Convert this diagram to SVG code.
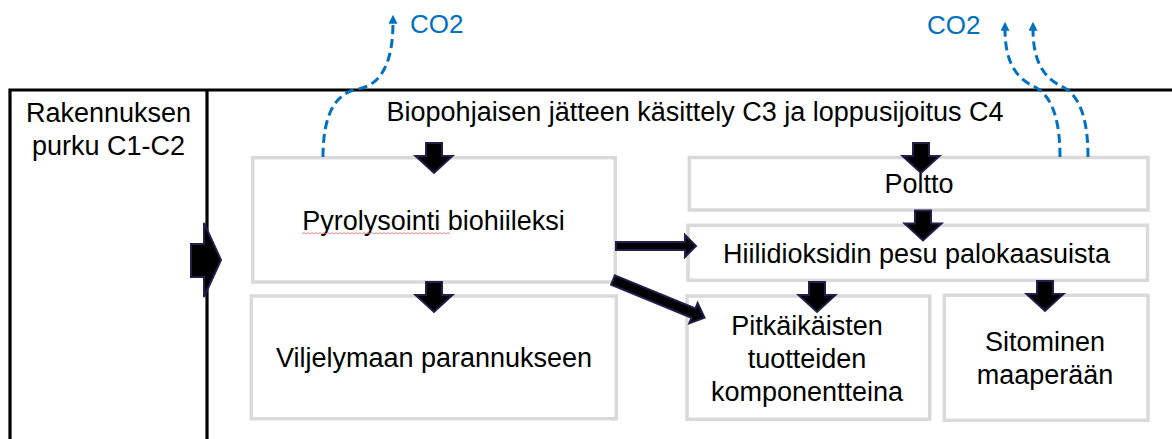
<svg xmlns="http://www.w3.org/2000/svg" width="1172" height="439" viewBox="0 0 1172 439">
<defs>
<style>
.frame{fill:none;stroke:#000;stroke-width:3.2}
.box{fill:#fff;stroke:#d9d9d9;stroke-width:3.5}
.t{font-family:"Liberation Sans",Arial,sans-serif;font-size:27px;fill:#000;text-anchor:middle}
.co2{font-family:"Liberation Sans",Arial,sans-serif;font-size:26px;fill:#0070C0}
.blk{fill:#000;stroke:#221f4d;stroke-width:2;stroke-linejoin:miter}
.dash{fill:none;stroke:#0070C0;stroke-width:3;stroke-dasharray:9 5}
</style>
<path id="down" d="M-8,0 H8 V13 H18.5 L0,30 L-18.5,13 H-8 Z"/>
<marker id="ah" viewBox="0 0 10 10" refX="2" refY="5" markerWidth="10" markerHeight="9" markerUnits="userSpaceOnUse" orient="auto">
<path d="M0,0 L10,5 L0,10 Z" fill="#0070C0"/>
</marker>
</defs>
<rect width="1172" height="439" fill="#fff"/>
<g id="frame">
<path class="frame" d="M10,439 V90 H1172 M207,90 V439"/>
</g>
<g id="purku">
<text class="t" x="108.5" y="122">Rakennuksen</text>
<text class="t" x="108.5" y="155">purku C1-C2</text>
</g>
<g id="kasittely">
<text class="t" x="695" y="121">Biopohjaisen jätteen käsittely C3 ja loppusijoitus C4</text>
</g>
<g id="pyrolysointi">
<rect class="box" x="252.7" y="157.7" width="362.6" height="124.3"/>
<text class="t" x="433.5" y="230">Pyrolysointi biohiileksi</text>
<path d="M302,234 l2,-1.5 l2,1.5 l2,-1.5 l2,1.5 l2,-1.5 l2,1.5 l2,-1.5 l2,1.5 l2,-1.5 l2,1.5 l2,-1.5 l2,1.5 l2,-1.5 l2,1.5 l2,-1.5 l2,1.5 l2,-1.5 l2,1.5 l2,-1.5 l2,1.5 l2,-1.5 l2,1.5 l2,-1.5 l2,1.5 l2,-1.5 l2,1.5 l2,-1.5 l2,1.5 l2,-1.5 l2,1.5 l2,-1.5 l2,1.5 l2,-1.5 l2,1.5 l2,-1.5 l2,1.5 l2,-1.5 l2,1.5 l2,-1.5 l2,1.5 l2,-1.5 l2,1.5 l2,-1.5 l2,1.5 l2,-1.5 l2,1.5 l2,-1.5 l2,1.5 l2,-1.5 l2,1.5 l2,-1.5 l2,1.5 l2,-1.5 l2,1.5 l2,-1.5 l2,1.5 l2,-1.5 l2,1.5 l2,-1.5 l2,1.5 l2,-1.5 l2,1.5 l2,-1.5 l2,1.5 l2,-1.5 l2,1.5 l2,-1.5 l2,1.5 l2,-1.5 l2,1.5 l2,-1.5 l2,1.5 l2,-1.5 l2,1.5" fill="none" stroke="#f07a7a" stroke-width="0.9"/>
</g>
<g id="viljelymaa">
<rect class="box" x="251.3" y="296" width="365" height="122.7"/>
<text class="t" x="434" y="367">Viljelymaan parannukseen</text>
</g>
<g id="poltto">
<rect class="box" x="689.3" y="157.5" width="458.7" height="52.5"/>
<text class="t" x="919" y="193">Poltto</text>
</g>
<g id="pesu">
<rect class="box" x="688" y="225.3" width="459.5" height="55"/>
<text class="t" x="916.5" y="263">Hiilidioksidin pesu palokaasuista</text>
</g>
<g id="tuotteet">
<rect class="box" x="687" y="296" width="242.7" height="123.3"/>
<text class="t" x="807" y="335">Pitkäikäisten</text>
<text class="t" x="807" y="368">tuotteiden</text>
<text class="t" x="807" y="401">komponentteina</text>
</g>
<g id="sitominen">
<rect class="box" x="944.3" y="295.3" width="203.7" height="125"/>
<text class="t" x="1045" y="351">Sitominen</text>
<text class="t" x="1045" y="384">maaperään</text>
</g>
<g id="connectors">
<path class="blk" d="M191,244 H204 V223 L221,260 L204,297 V277 H191 Z"/>
<use href="#down" class="blk" x="434" y="143"/>
<use href="#down" class="blk" x="434" y="282"/>
<use href="#down" class="blk" x="921" y="143"/>
<use href="#down" class="blk" x="923" y="210.5"/>
<use href="#down" class="blk" x="817" y="282"/>
<use href="#down" class="blk" x="1045" y="281"/>
<path class="blk" d="M616,242 H685 V235 L696,246 L685,257 V250 H616 Z"/>
<path class="blk" transform="translate(613,280) rotate(22.4)" d="M0,-5 H87 V-11 L99,0 L87,11 V5 H0 Z"/>
<path class="dash" marker-end="url(#ah)" d="M323,157 C323,115 335,93 358,89 C380,85 393,65 393,22"/>
<path class="dash" marker-end="url(#ah)" d="M1060,157 C1060,115 1050,95 1035,87 C1018,79 1005,65 1005,29"/>
<path class="dash" marker-end="url(#ah)" d="M1088,157 C1088,115 1078,95 1063,87 C1046,79 1033,65 1033,29"/>
</g>
<g id="labels">
<text class="co2" x="410" y="33">CO2</text>
<text class="co2" x="927" y="34">CO2</text>
</g>
</svg>
